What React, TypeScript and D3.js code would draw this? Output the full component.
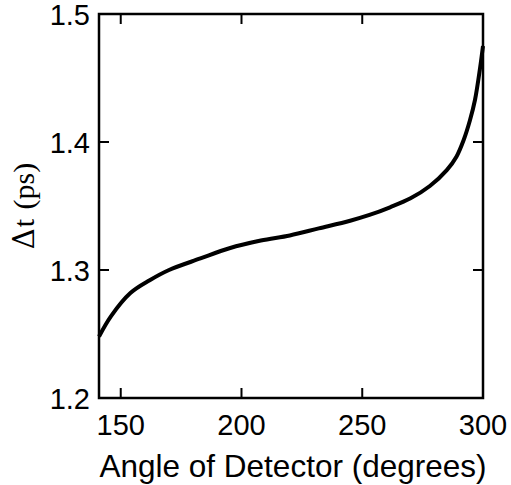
import React from "react";
import * as d3 from "d3";

const angles = [141, 146, 154, 162, 170, 183, 195, 208, 220, 232, 245, 253, 261.5, 270, 278, 285, 289, 292, 294.6, 296.7, 298.8, 300];
const deltaT = [1.248, 1.264, 1.282, 1.292, 1.3, 1.309, 1.317, 1.323, 1.327, 1.3325, 1.3385, 1.343, 1.349, 1.356, 1.3656, 1.378, 1.3885, 1.4016, 1.417, 1.433, 1.458, 1.475];
const xTicks = [150, 200, 250, 300];
const yTicks = [1.2, 1.3, 1.4, 1.5];

const W = 511, H = 485;
const L = 99, R = 483, T = 14, B = 398;

export default function App() {
  const x = d3.scaleLinear().domain([141, 300]).range([L, R]);
  const y = d3.scaleLinear().domain([1.2, 1.5]).range([B, T]);
  const pts = angles.map((a, i) => [a, deltaT[i]] as [number, number]);
  const line = d3.line<[number, number]>().x(d => x(d[0])).y(d => y(d[1])).curve(d3.curveCatmullRom.alpha(0.5));
  const tl = 10;
  const sans = "'Liberation Sans', Arial, sans-serif";
  return (
    <svg width={W} height={H} style={{ position: "absolute", left: 0, top: 0, background: "#fff" }}>
      <rect x={0} y={0} width={W} height={H} fill="#fff" />
      <path d={line(pts) || ""} fill="none" stroke="#000" strokeWidth={4} strokeLinejoin="round" />
      <rect x={L} y={T} width={R - L} height={B - T} fill="none" stroke="#000" strokeWidth={2.5} />
      {xTicks.map(t => (
        <g key={"x" + t}>
          <line x1={x(t)} x2={x(t)} y1={B} y2={B - tl} stroke="#000" strokeWidth={2} />
          <line x1={x(t)} x2={x(t)} y1={T} y2={T + tl} stroke="#000" strokeWidth={2} />
          <text x={x(t)} y={435} textAnchor="middle" fontFamily={sans} fontSize={29} fill="#000">{t}</text>
        </g>
      ))}
      {yTicks.map(t => (
        <g key={"y" + t}>
          <line x1={L} x2={L + tl} y1={y(t)} y2={y(t)} stroke="#000" strokeWidth={2} />
          <line x1={R} x2={R - tl} y1={y(t)} y2={y(t)} stroke="#000" strokeWidth={2} />
          <text x={90} y={y(t) + 10.5} textAnchor="end" fontFamily={sans} fontSize={29} fill="#000">{t.toFixed(1)}</text>
        </g>
      ))}
      <text x={(L + R) / 2 + 2} y={477} textAnchor="middle" fontFamily={sans} fontSize={31.5} fill="#000">Angle of Detector (degrees)</text>
      <text transform={`translate(34,${(T + B) / 2}) rotate(-90)`} textAnchor="middle" fontFamily="'Liberation Serif', 'Times New Roman', serif" fontSize={30} fill="#000">
        <tspan fontFamily="'DejaVu Serif', serif" fontSize={29}>Δ</tspan>
        <tspan dx={1}>t </tspan>
        <tspan dx={2}>(ps)</tspan>
      </text>
    </svg>
  );
}
